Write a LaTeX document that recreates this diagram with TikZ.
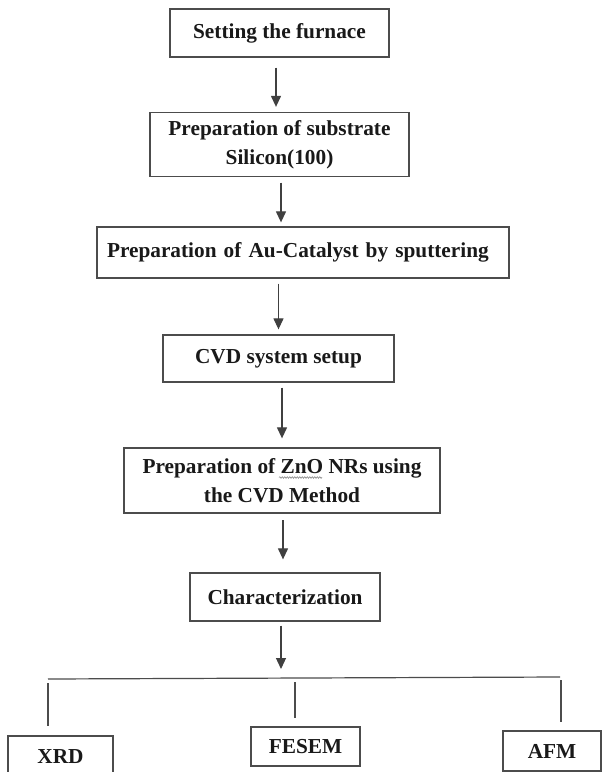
\documentclass[tikz,border=0pt]{standalone}
\usepackage{fontspec}
\setmainfont{Liberation Serif}
\usetikzlibrary{arrows.meta,decorations.pathmorphing}
\begin{document}
\begin{tikzpicture}[x=1pt,y=1pt,
  box/.style={draw=black!70,line width=1.3pt,fill=white,align=center,inner sep=0pt,
    font=\bfseries\fontsize{21.3}{29}\selectfont,text=black!90},
  arr/.style={draw=black!75,line width=1.2pt,-{Triangle[width=10pt,length=11pt]}},
  ln/.style={draw=black!70,line width=1.2pt}]
\clip (0,0) rectangle (602,-772);
\fill[white] (0,0) rectangle (602,-772);
\node[box,minimum width=219pt,minimum height=48pt] (b1) at (279.5,-33) {Setting the furnace};
\node[box,minimum width=259pt,minimum height=64pt] (b2) at (279.5,-144.5) {Preparation of substrate\\Silicon(100)};
\node[box,minimum width=412pt,minimum height=51pt,text width=392pt,align=left,inner xsep=10pt] (b3) at (303,-252.5) {Preparation of Au-Catalyst by sputtering};
\node[box,minimum width=231pt,minimum height=47pt] (b4) at (278.5,-358.5) {CVD system setup};
\node[box,minimum width=316pt,minimum height=65pt] (b5) at (282,-480.5) {Preparation of ZnO NRs using\\the CVD Method};
\node[box,minimum width=190pt,minimum height=48pt] (b6) at (285,-597) {Characterization};
\node[box,minimum width=105pt,minimum height=42pt] (xrd) at (60.5,-757) {XRD};
\node[box,minimum width=109pt,minimum height=39pt] (fesem) at (305.5,-746.5) {FESEM};
\node[box,minimum width=98pt,minimum height=40pt] (afm) at (552,-751) {AFM};
% arrows
\draw[arr,shorten <=10pt,shorten >=5pt] ([xshift=-3.5pt]b1.south) -- ([xshift=-3.5pt]b2.north);
\draw[arr,shorten <=5.5pt,shorten >=4pt] ([xshift=1.5pt]b2.south) -- ([xshift=1.5pt]b2.south |- b3.north);
\draw[arr,shorten <=5pt,shorten >=5pt] (b4.north |- b3.south) -- (b4.north);
\draw[arr,shorten <=5pt,shorten >=9pt] (b5.north |- b4.south) -- (b5.north);
\draw[arr,shorten <=6.5pt,shorten >=13pt] ([xshift=1pt]b5.south) -- ([xshift=1pt]b5.south |- b6.north);
% bus
\coordinate (hl) at (48,-679);
\coordinate (hr) at (560,-677);
\coordinate (hm) at (281,-678);
\draw[arr,shorten <=4pt,shorten >=9pt] ([xshift=-4pt]b6.south) -- ([xshift=-4pt]b6.south |- hm);
\draw[ln] (hl) -- (hr);
\draw[ln] ([yshift=-4pt]hl) -- ([yshift=9pt]xrd.north -| hl);
\coordinate (mtop) at (295,-682);
\draw[ln] (mtop) -- ([yshift=8pt]fesem.north -| mtop);
\coordinate (rtop) at (561,-680);
\draw[ln] (rtop) -- ([yshift=8pt]afm.north -| rtop);
% spell-check squiggle under ZnO
\draw[black!45,line width=0.6pt,decorate,decoration={snake,amplitude=0.8pt,segment length=2.5pt}] (279,-477.5) -- (322,-477.5);
\end{tikzpicture}
\end{document}
